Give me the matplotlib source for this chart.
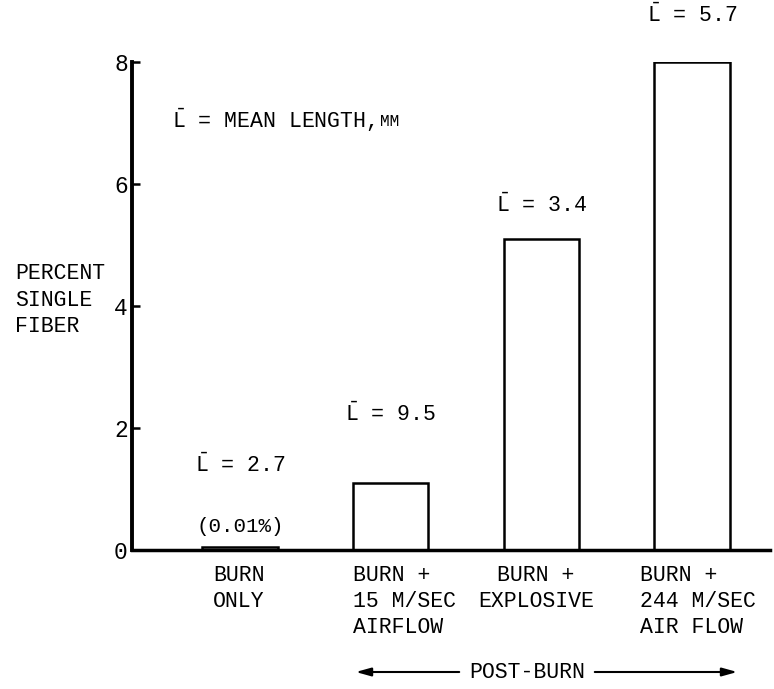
import matplotlib
matplotlib.use("Agg")
import matplotlib.pyplot as plt

# ---- data ----
categories = ["BURN\nONLY", "BURN +\n15 M/SEC\nAIRFLOW", "BURN +\nEXPLOSIVE", "BURN +\n244 M/SEC\nAIR FLOW"]
values = [0.05, 1.1, 5.1, 8.0]
mean_lengths = ["2.7", "9.5", "3.4", "5.7"]
yticks = [0, 2, 4, 6, 8]
ytick_labels = ["0", "2", "4", "6", "8"]

FONT = ["Liberation Mono", "DejaVu Sans Mono", "DejaVu Sans"]
plt.rcParams["font.family"] = FONT
plt.rcParams["mathtext.fontset"] = "custom"
plt.rcParams["mathtext.rm"] = "Liberation Mono"
plt.rcParams["mathtext.it"] = "Liberation Mono"

FS = 15.5

W, H = 774, 689
fig = plt.figure(figsize=(W / 100, H / 100), dpi=100)

def fx(px):
    return px / W

def fy(py):
    return 1 - py / H

ax = fig.add_axes([fx(132), fy(550), fx(770) - fx(132), fy(62) - fy(550)])

pos = list(range(len(categories)))
ax.bar(pos, values, width=0.5, facecolor="white", edgecolor="black", linewidth=1.8, zorder=2)

ax.set_xlim(-0.717, 3.517)
ax.set_ylim(0, 8)
ax.set_yticks(yticks)
ax.set_yticklabels(ytick_labels, fontsize=FS + 1)
ax.set_xticks([])
ax.tick_params(axis="y", direction="in", length=6, width=1.8, pad=3)
for s in ["top", "right"]:
    ax.spines[s].set_visible(False)
ax.spines["left"].set_linewidth(2.8)
ax.spines["bottom"].set_linewidth(2.5)
ax.spines["left"].set_zorder(3)
ax.spines["bottom"].set_zorder(3)

# mean length annotations (layout y positions in pixels)
ml_y_px = [465, 414, 205, 15]
for i, (ml, ypx) in enumerate(zip(mean_lengths, ml_y_px)):
    ax.text(pos[i], (550 - ypx) / 61.0, r"$\bar{\mathrm{L}}$ = " + ml,
            ha="center", va="center", fontsize=FS, clip_on=False)

ax.text(pos[0], (550 - 527) / 61.0, "(0.01%)", ha="center", va="center", fontsize=FS - 0.5)

# definition text
t1 = fig.text(fx(172), fy(120), r"$\bar{\mathrm{L}}$ = MEAN LENGTH, ", ha="left", va="center", fontsize=FS)
ax.annotate("MM", xy=(1, 0.45), xycoords=t1, va="center", ha="left", fontsize=FS - 4)

# y label
fig.text(fx(15), fy(300), "PERCENT\nSINGLE\nFIBER", ha="left", va="center", fontsize=FS, linespacing=1.35)

# category labels
cat_x_px = [213, 353, 536, 640]
cat_ha = ["left", "left", "center", "left"]
for i, lab in enumerate(categories):
    fig.text(fx(cat_x_px[i]), fy(565), lab, ha=cat_ha[i], va="top", fontsize=FS,
             multialignment="center" if cat_ha[i] == "center" else "left", linespacing=1.3)

# POST-BURN with arrows
fig.text(fx(527), fy(672), "POST-BURN", ha="center", va="center", fontsize=FS)
arrow = dict(arrowstyle="-|>,head_length=0.9,head_width=0.25", color="black", lw=1.5)
ax.annotate("", xy=(fx(353), fy(672)), xytext=(fx(462), fy(672)), xycoords="figure fraction",
            textcoords="figure fraction", arrowprops=arrow)
ax.annotate("", xy=(fx(740), fy(672)), xytext=(fx(592), fy(672)), xycoords="figure fraction",
            textcoords="figure fraction", arrowprops=arrow)

fig.savefig("out.png", dpi=100)
